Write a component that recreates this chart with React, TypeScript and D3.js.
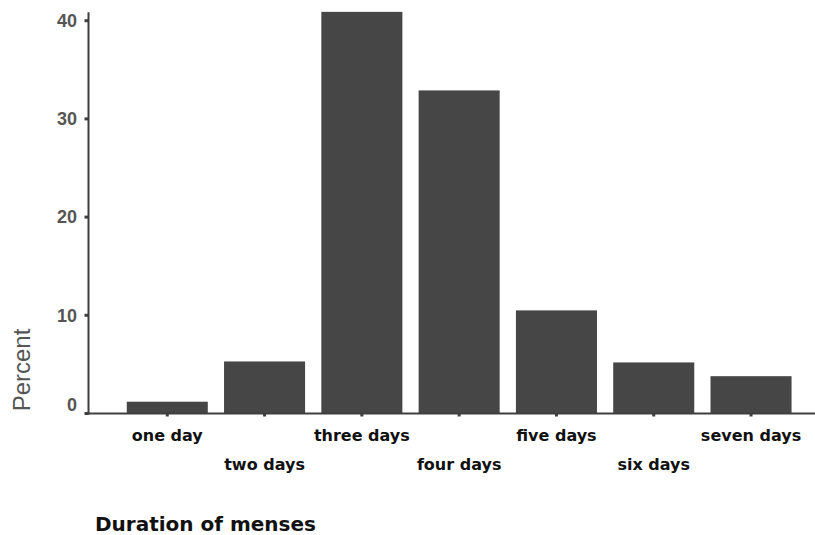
import React from "react";
import * as d3 from "d3";

const categories = ["one day", "two days", "three days", "four days", "five days", "six days", "seven days"];
const percents = [1.2, 5.3, 40.9, 32.9, 10.5, 5.2, 3.8];
const yTicks = [0, 10, 20, 30, 40];
const xTitle = "Duration of menses";
const yTitle = "Percent";

export default function App() {
  const W = 815, H = 535;
  const axisX = 88.5;
  const x = d3.scaleBand<string>().domain(categories).range([110.5, 807.8]).paddingInner(0.167).paddingOuter(0.167);
  const y = d3.scaleLinear().domain([0, 40]).range([413.5, 20.7]);
  const base = y(0);
  const barColor = "#464646";
  const axisColor = "#3f3f3f";
  return (
    <svg width={W} height={H} style={{ position: "absolute", left: 0, top: 0, background: "#fff" }}>
      {categories.map((c, i) => (
        <rect key={c} x={x(c)!} y={y(percents[i])} width={x.bandwidth()} height={base - y(percents[i])} fill={barColor} />
      ))}
      {/* y axis */}
      <line x1={axisX} x2={axisX} y1={y(40.85)} y2={base + 1} stroke={axisColor} strokeWidth={2} />
      {yTicks.map((t) => (
        <g key={t}>
          <line x1={axisX - 4} x2={axisX} y1={y(t)} y2={y(t)} stroke={axisColor} strokeWidth={3} />
          <text x={77} y={y(t) + (t === 0 ? -9 : 0)} dy="0.35em" textAnchor="end" fontFamily="Liberation Sans, Arial, sans-serif" fontWeight="bold" fontSize={18} fill="#555">{t}</text>
        </g>
      ))}
      {/* x axis */}
      <line x1={axisX - 1} x2={W} y1={base} y2={base} stroke={axisColor} strokeWidth={2} />
      {categories.map((c, i) => {
        const cx = x(c)! + x.bandwidth() / 2;
        return (
          <g key={c}>
            <line x1={cx} x2={cx} y1={base} y2={base + 3} stroke={axisColor} strokeWidth={3} />
            <text x={cx} y={i % 2 === 0 ? 441 : 470} textAnchor="middle" fontFamily="DejaVu Sans, Verdana, sans-serif" fontWeight="bold" fontSize={16} fill="#111">{c}</text>
          </g>
        );
      })}
      <text transform="translate(30,370) rotate(-90)" textAnchor="middle" fontFamily="Liberation Sans, Arial, sans-serif" fontSize={24} fill="#555">{yTitle}</text>
      <text x={95} y={531} fontFamily="DejaVu Sans, Verdana, sans-serif" fontWeight="bold" fontSize={20} fill="#111" style={{ whiteSpace: "pre" }}>{xTitle}</text>
    </svg>
  );
}
